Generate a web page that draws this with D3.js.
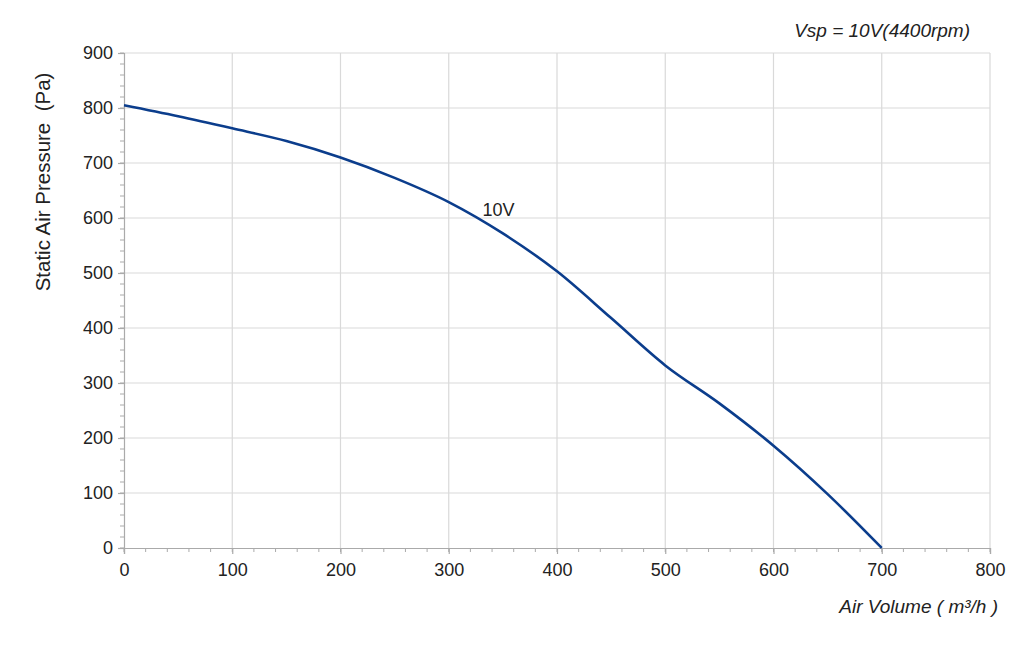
<!DOCTYPE html>
<html>
<head>
<meta charset="utf-8">
<script src="https://cdn.jsdelivr.net/npm/d3@7"></script>
<style>
  body { margin: 0; background: #fff; }
  text { font-family: "Liberation Sans", Arial, sans-serif; fill: #222; }
</style>
</head>
<body>
<div id="chart"></div>
<script>
// curve
const airVolume = [0, 50, 100, 150, 200, 250, 300, 350, 400, 450, 500, 550, 600, 650, 700];
const pressure  = [805, 785, 763, 740, 710, 673, 629, 572, 503, 418, 332, 263, 186, 98, 0];
const xTicks = [0, 100, 200, 300, 400, 500, 600, 700, 800];
const yTicks = [0, 100, 200, 300, 400, 500, 600, 700, 800, 900];
const seriesLabel = "10V";

const W = 1024, H = 645;
const MARGIN = {TOP: 53, BOTTOM: 97, LEFT: 124, RIGHT: 34};
const WIDTH = W - MARGIN.LEFT - MARGIN.RIGHT;
const HEIGHT = H - MARGIN.TOP - MARGIN.BOTTOM;

const svg = d3.select("#chart").append("svg")
  .attr("width", W).attr("height", H);
const g = svg.append("g").attr("transform", `translate(${MARGIN.LEFT},${MARGIN.TOP})`);

const x = d3.scaleLinear().domain([0, 800]).range([0, WIDTH]);
const y = d3.scaleLinear().domain([0, 900]).range([HEIGHT, 0]);

// grid
g.append("g").selectAll("line").data(xTicks.slice(1)).join("line")
  .attr("x1", d => x(d)).attr("x2", d => x(d))
  .attr("y1", 0).attr("y2", HEIGHT)
  .attr("stroke", "#d9d9d9").attr("stroke-width", 1.2);
g.append("g").selectAll("line").data(yTicks.slice(1)).join("line")
  .attr("x1", 0).attr("x2", WIDTH)
  .attr("y1", d => y(d)).attr("y2", d => y(d))
  .attr("stroke", "#d9d9d9").attr("stroke-width", 1.2);

// minor ticks
const xMinor = d3.range(0, 801, 20);
const yMinor = d3.range(0, 901, 20);
g.append("g").selectAll("line").data(xMinor).join("line")
  .attr("x1", d => x(d)).attr("x2", d => x(d))
  .attr("y1", HEIGHT).attr("y2", HEIGHT + 4)
  .attr("stroke", "#aaa");
g.append("g").selectAll("line").data(yMinor).join("line")
  .attr("x1", -4).attr("x2", 0)
  .attr("y1", d => y(d)).attr("y2", d => y(d))
  .attr("stroke", "#aaa");

// axes
const xAxis = g.append("g").attr("transform", `translate(0,${HEIGHT})`)
  .call(d3.axisBottom(x).tickValues(xTicks).tickSize(6).tickPadding(9));
const yAxis = g.append("g")
  .call(d3.axisLeft(y).tickValues(yTicks).tickSize(6).tickPadding(5));
[xAxis, yAxis].forEach(a => {
  a.selectAll("path, line").attr("stroke", "#aaa").attr("stroke-width", 1.2);
  a.selectAll("text").attr("font-size", 18).attr("fill", "#222")
    .attr("font-family", "Liberation Sans, Arial, sans-serif");
});

// curve
const data = airVolume.map((v, i) => ({v, p: pressure[i]}));
const line = d3.line().x(d => x(d.v)).y(d => y(d.p)).curve(d3.curveMonotoneX);
g.append("path").datum(data)
  .attr("d", line)
  .attr("fill", "none")
  .attr("stroke", "#0b3d8c")
  .attr("stroke-width", 2.6);

g.append("text")
  .attr("x", x(346)).attr("y", y(604))
  .attr("text-anchor", "middle")
  .attr("font-size", 18)
  .text(seriesLabel);

// titles
svg.append("text")
  .attr("transform", `translate(50,${MARGIN.TOP + 129}) rotate(-90)`)
  .attr("text-anchor", "middle")
  .attr("font-size", 20.5)
  .text("Static Air Pressure\u00a0 (Pa)");

svg.append("text")
  .attr("x", 998).attr("y", 613)
  .attr("text-anchor", "end")
  .attr("font-size", 19)
  .attr("font-style", "italic")
  .text("Air Volume ( m³/h )");

svg.append("text")
  .attr("x", 970).attr("y", 37)
  .attr("text-anchor", "end")
  .attr("font-size", 19)
  .attr("font-style", "italic")
  .text("Vsp = 10V(4400rpm)");
</script>
</body>
</html>
